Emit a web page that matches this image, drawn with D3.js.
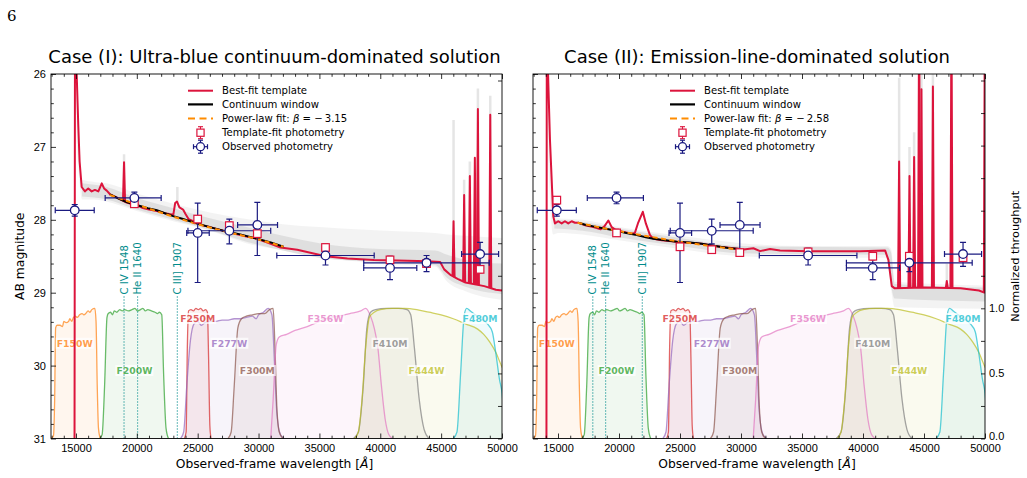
<!DOCTYPE html>
<html>
<head>
<meta charset="utf-8">
<script src="https://cdn.jsdelivr.net/npm/d3@7"></script>
<style>
  body { margin: 0; background: #fff; }
  svg { font-family: "DejaVu Sans", sans-serif; }
</style>
</head>
<body>
<div id="chart"></div>
<script>
// ---------- datos ----------
const filterNames = ["F150W", "F200W", "F250M", "F277W", "F300M", "F356W", "F410M", "F444W", "F480M"];
const filterColors = ["#ff7f0e", "#2ca02c", "#d62728", "#9467bd", "#8c564b", "#e377c2", "#7f7f7f", "#bcbd22", "#17becf"];

// curvas de transmisión normalizada [lambda, T]
const f150w = [[12950,0],[13150,0.02],[13250,0.3],[13330,0.85],[13450,0.87],[13700,0.87],[13900,0.86],[14000,0.9],[14200,0.89],[14400,0.9],[14500,0.92],[14650,0.9],[14800,0.93],[14950,0.94],[15100,0.93],[15300,0.95],[15500,0.96],[15650,0.95],[15800,0.96],[16000,0.98],[16150,0.97],[16300,0.99],[16550,1.0],[16650,0.9],[16750,0.4],[16850,0.08],[17000,0]];
const f200w = [[16950,0],[17150,0.03],[17350,0.4],[17550,0.93],[17650,0.96],[17850,0.97],[18000,0.95],[18150,0.98],[18350,0.97],[18600,0.99],[18800,0.98],[19000,0.99],[19300,0.98],[19600,0.99],[19850,1.0],[20050,0.98],[20300,0.99],[20500,1.0],[20700,0.98],[20900,0.99],[21200,0.98],[21500,0.97],[21700,0.96],[21850,0.97],[22050,0.95],[22200,0.5],[22400,0.08],[22600,0]];
const f250m = [[23900,0],[24050,0.05],[24150,0.7],[24250,0.98],[24450,0.99],[24650,0.98],[24850,1.0],[25050,0.99],[25250,1.0],[25450,0.98],[25650,0.99],[25800,0.97],[25900,0.6],[26000,0.1],[26100,0]];
const f277w = [[23600,0],[23850,0.05],[24100,0.4],[24400,0.75],[24700,0.88],[25000,0.9],[25300,0.87],[25600,0.89],[26000,0.9],[26500,0.9],[27000,0.91],[27500,0.91],[28000,0.92],[28500,0.92],[29000,0.93],[29500,0.94],[29800,0.92],[30000,0.95],[30400,0.97],[30800,1.0],[31100,0.95],[31300,0.6],[31500,0.2],[31800,0.03],[32100,0]];
const f300m = [[27500,0],[27750,0.05],[28000,0.4],[28300,0.85],[28600,0.92],[29000,0.94],[29500,0.95],[30000,0.96],[30500,0.96],[30900,0.99],[31200,1.0],[31350,0.7],[31500,0.25],[31700,0.05],[32000,0]];
const f356w = [[31000,0],[31200,0.3],[31450,0.72],[31700,0.78],[32300,0.8],[33000,0.83],[34000,0.86],[35000,0.9],[35500,0.92],[36500,0.94],[37500,0.96],[38400,0.98],[38800,1.0],[39200,0.94],[39500,0.85],[39800,0.7],[40100,0.4],[40400,0.15],[40700,0.03],[41000,0]];
const f410m = [[37800,0],[38200,0.05],[38600,0.4],[38900,0.85],[39200,0.97],[39600,0.99],[40500,1.0],[41500,1.0],[42200,0.99],[42500,0.95],[42800,0.7],[43200,0.3],[43600,0.07],[44000,0]];
const f444w = [[37900,0],[38200,0.05],[38500,0.3],[38800,0.7],[39100,0.93],[39500,0.97],[40000,0.99],[41000,1.0],[42000,1.0],[43000,0.99],[44000,0.97],[45000,0.95],[46000,0.92],[47000,0.88],[48000,0.84],[48500,0.8],[49000,0.74],[49500,0.66],[50000,0.55],[50300,0.5]];
const f480m = [[46000,0],[46300,0.05],[46600,0.5],[46900,0.95],[47100,1.0],[47400,0.98],[47800,0.95],[48300,0.92],[48800,0.88],[49200,0.82],[49500,0.65],[49800,0.45],[50000,0.35],[50200,0.1]];
const filterCurves = [f150w, f200w, f250m, f277w, f300m, f356w, f410m, f444w, f480m];

// fotometría observada (común a los dos casos)
const obsWave   = [14900, 19800, 25000, 27600, 29900, 35500, 40800, 43800, 48200];
const obsWaveLo = [13300, 17400, 24100, 24200, 28280, 31500, 38640, 38640, 46680];
const obsWaveHi = [16500, 22000, 25950, 31000, 31560, 39500, 43000, 48950, 49720];
const obsMag    = [27.87, 27.70, 28.18, 28.15, 28.07, 28.49, 28.66, 28.59, 28.47];
const obsErrLo  = [0.08, 0.08, 0.41, 0.16, 0.31, 0.10, 0.16, 0.10, 0.16];
const obsErrHi  = [0.08, 0.08, 0.68, 0.18, 0.42, 0.13, 0.16, 0.12, 0.17];

// Caso I
const tmpl1 = [[12950,31.5],[14880,31.5],[14920,25.5],[15000,25.5],[15060,26.0],[15190,26.7],[15300,27.2],[15470,27.55],[15740,27.61],[16010,27.57],[16290,27.61],[16560,27.59],[16840,27.61],[17120,27.5],[17310,27.57],[17530,27.6],[17800,27.65],[18300,27.69],[18760,27.73],[19120,27.76],[19500,27.78],[20000,27.8],[20500,27.84],[21000,27.86],[21650,27.88],[22300,27.91],[23000,27.93],[23150,27.77],[23300,27.75],[23500,27.83],[23800,27.86],[24000,27.92],[24250,27.99],[24940,28.04],[25500,28.08],[26000,28.1],[27100,28.15],[28000,28.19],[29000,28.23],[29880,28.26],[31000,28.33],[31800,28.38],[33180,28.41],[35500,28.5],[37300,28.53],[39480,28.55],[41400,28.56],[43880,28.57],[44920,28.58],[45250,28.68],[45800,28.76],[46350,28.81],[47000,28.86],[48540,28.91],[49500,28.96],[50000,28.97]];
const spikes1 = [[18950,27.21],[46020,28.02],[46890,27.66],[47360,27.40],[47770,27.15],[48020,26.48],[49035,26.56]];
const graySpikes1 = [[18950,27.1],[23330,27.55],[46020,26.63],[46890,27.45],[47360,27.2],[48020,26.2],[49035,26.3]];
const grayOuter1 = [[15050,26.2,26.9],[15300,27.0,27.5],[15500,27.45,27.72],[16500,27.48,27.72],[17500,27.5,27.75],[20000,27.64,27.88],[23000,27.78,28.02],[26000,27.9,28.15],[29000,27.99,28.32],[32000,28.06,28.42],[35000,28.1,28.52],[38000,28.13,28.57],[42000,28.16,28.62],[44500,28.18,28.64],[45500,28.2,28.85],[47000,28.22,28.98],[50000,28.25,29.1]];
const grayInner1 = [[15500,27.5,27.68],[17500,27.55,27.72],[20000,27.7,27.86],[23000,27.84,28.0],[26000,27.98,28.14],[29000,28.1,28.3],[32000,28.22,28.42],[35000,28.32,28.52],[40000,28.4,28.58],[44500,28.42,28.62],[45500,28.48,28.8],[47000,28.55,28.92],[50000,28.6,29.02]];
const cont1 = [[17800,27.65],[18500,27.71],[19200,27.76],[20270,27.81],[20900,27.84],[21650,27.87],[22300,27.91],[22990,27.95],[23800,27.99],[24940,28.05],[26000,28.1],[27100,28.15],[28500,28.2],[29880,28.26],[31000,28.31],[32050,28.37]];
const pl1 = [[17800,27.66],[20000,27.79],[22500,27.93],[25000,28.06],[27500,28.17],[30000,28.27],[32050,28.37]];
const tfMag1 = [null, 27.78, 27.99, 28.08, 28.19, 28.38, 28.55, 28.60, 28.68];
const lines1 = [18950, 20060, 23330];

// Caso II
const tmpl2 = [[12950,31.5],[14050,31.5],[14080,25.5],[14150,25.8],[14340,26.9],[14610,27.95],[14750,28.05],[15020,28.02],[15300,28.05],[15570,28.02],[15840,28.05],[16120,28.02],[16390,28.04],[16665,28.04],[17300,28.08],[17900,28.1],[18500,28.13],[18800,28.09],[19125,28.01],[19400,28.1],[19813,28.15],[20500,28.17],[21000,28.19],[21300,28.18],[21550,28.05],[21950,27.89],[22200,28.05],[22540,28.21],[22815,28.26],[23500,28.28],[24733,28.3],[25500,28.31],[26783,28.33],[27500,28.35],[28284,28.37],[29924,28.40],[30060,28.41],[31015,28.39],[31560,28.43],[32380,28.4],[33200,28.42],[35520,28.43],[39760,28.43],[41810,28.42],[42080,28.55],[42360,28.91],[42600,28.94],[45000,28.93],[48000,28.94],[49500,28.97],[50000,29.0]];
const spikes2 = [[42960,27.2],[43810,27.4],[44190,27.14],[44600,25],[44790,26.21],[45730,26.17],[46870,28.84],[47250,25],[49990,25]];
const graySpikes2 = [[42960,26.05],[43810,27.0],[44190,26.8],[44790,26.0],[45730,26.0],[46870,28.6]];
const grayOuter2 = [[14200,26.0,27.2],[14600,27.8,28.2],[15000,27.98,28.18],[17000,28.0,28.2],[20000,28.1,28.28],[25000,28.22,28.4],[30000,28.32,28.5],[35000,28.36,28.52],[42000,28.36,28.52],[42300,28.4,28.95],[42600,28.85,29.2],[50000,28.9,29.22]];
const grayInner2 = [[14700,28.0,28.12],[17000,28.03,28.15],[20000,28.12,28.24],[25000,28.25,28.36],[30000,28.36,28.46],[42000,28.38,28.48],[42300,28.45,28.9],[42600,28.88,29.08],[50000,28.93,29.12]];
const cont2 = [[16665,28.04],[17300,28.07],[17895,28.09],[18800,28.12],[19813,28.15],[20600,28.18],[21453,28.21],[22200,28.24],[22815,28.26],[23800,28.28],[24733,28.30],[25800,28.31],[26783,28.33],[27500,28.35],[28284,28.37],[29100,28.39],[29924,28.40]];
const pl2 = [[16600,28.04],[18000,28.09],[20000,28.155],[22500,28.23],[25000,28.3],[27500,28.36],[29924,28.41]];
const tfMag2 = [27.73, 28.18, 28.37, 28.41, 28.45, 28.44, 28.50, 28.50, 28.52];
const lines2 = [17850, 18900, 21910];

const lineNames = ["C IV 1548", "He II 1640", "C III] 1907"];
const tfErr = 0.05;

const waveDomain = [12950, 50000];
const magDomain = [26, 31];
const thruDomain = [0, 2.8];
const xMajor = d3.range(15000, 50001, 5000);
const xMinor = d3.range(13000, 50001, 1000).filter(v => v % 5000 !== 0);
const magMajor = [26, 27, 28, 29, 30, 31];
const magMinor = d3.range(26, 31.001, 0.2).filter(v => Math.abs(v - Math.round(v)) > 0.01);
const thruTicks = d3.range(0, 2.76, 0.25);
const thruLabels = [0, 0.5, 1.0];

// ---------- figura ----------
const W = 1027, H = 478;
const yTop = 74, yBot = 438.5;

const svg = d3.select("#chart").append("svg")
  .attr("width", W).attr("height", H)
  .attr("viewBox", [0, 0, W, H]);

svg.append("text").attr("x", 7).attr("y", 21)
  .attr("font-family", "DejaVu Serif, serif").attr("font-size", 15)
  .text("6");

function interp(pts, w) {
  const i = d3.bisector(d => d[0]).left(pts, w);
  if (i <= 0) return pts[0][1];
  if (i >= pts.length) return pts[pts.length - 1][1];
  const a = pts[i - 1], b = pts[i];
  return a[1] + (b[1] - a[1]) * (w - a[0]) / (b[0] - a[0]);
}

function panel(cfg) {
  const x = d3.scaleLinear().domain(waveDomain).range([cfg.x0, cfg.x1]);
  const y = d3.scaleLinear().domain(magDomain).range([yTop, yBot]);
  const yT = d3.scaleLinear().domain(thruDomain).range([yBot, yTop]);

  const clipId = "clip" + cfg.id;
  svg.append("clipPath").attr("id", clipId).append("rect")
    .attr("x", cfg.x0).attr("y", yTop).attr("width", cfg.x1 - cfg.x0).attr("height", yBot - yTop);
  const g = svg.append("g").attr("clip-path", `url(#${clipId})`);

  // filtros
  const area = d3.area().x(d => x(d[0])).y0(yT(0)).y1(d => yT(d[1])).curve(d3.curveMonotoneX);
  const tline = d3.line().x(d => x(d[0])).y(d => yT(d[1])).curve(d3.curveMonotoneX);
  filterCurves.forEach((c, i) => {
    g.append("path").attr("d", area(c)).attr("fill", filterColors[i]).attr("fill-opacity", 0.07);
  });
  filterCurves.forEach((c, i) => {
    g.append("path").attr("d", tline(c)).attr("fill", "none")
      .attr("stroke", filterColors[i]).attr("stroke-opacity", 0.7).attr("stroke-width", 1.3);
  });
  const labelLevels = [0.73, 0.52, 0.92];
  filterNames.forEach((n, i) => {
    const t = g.append("text")
      .attr("x", x(obsWave[i])).attr("y", yT(labelLevels[i % 3]))
      .attr("dy", "0.35em").attr("text-anchor", "middle")
      .attr("font-size", 9.3).attr("font-weight", "bold")
      .attr("fill", filterColors[i]).attr("fill-opacity", 0.75)
      .text(n);
    const bb = t.node().getBBox();
    g.insert("rect", () => t.node())
      .attr("x", bb.x - 1).attr("y", bb.y).attr("width", bb.width + 2).attr("height", bb.height)
      .attr("fill", "#fff").attr("fill-opacity", 0.7);
  });

  // banda gris de plantillas
  const band = d3.area().x(d => x(d[0])).y0(d => y(d[1])).y1(d => y(d[2])).curve(d3.curveMonotoneX);
  g.append("path").attr("d", band(cfg.grayOuter)).attr("fill", "#aaa").attr("fill-opacity", 0.14);
  g.append("path").attr("d", band(cfg.grayInner)).attr("fill", "#999").attr("fill-opacity", 0.22);
  cfg.graySpikes.forEach(s => {
    const base = interp(cfg.tmpl, s[0]);
    g.append("line").attr("x1", x(s[0])).attr("x2", x(s[0]))
      .attr("y1", y(base)).attr("y2", y(s[1]))
      .attr("stroke", "#aaa").attr("stroke-opacity", 0.3).attr("stroke-width", 2.5);
  });

  // plantilla
  const mline = d3.line().x(d => x(d[0])).y(d => y(d[1]));
  g.append("path").attr("d", mline(cfg.tmpl)).attr("fill", "none")
    .attr("stroke", "crimson").attr("stroke-width", 2).attr("stroke-linejoin", "round");
  const hw = 85;
  cfg.spikes.forEach(s => {
    const pts = [[s[0] - hw, interp(cfg.tmpl, s[0] - hw)], [s[0], s[1]], [s[0] + hw, interp(cfg.tmpl, s[0] + hw)]];
    g.append("path").attr("d", mline(pts)).attr("fill", "crimson")
      .attr("stroke", "crimson").attr("stroke-width", 2).attr("stroke-linejoin", "round");
  });

  // continuo y ley de potencias
  g.append("path").attr("d", mline(cfg.cont)).attr("fill", "none")
    .attr("stroke", "#000").attr("stroke-width", 2);
  const smooth = d3.line().x(d => x(d[0])).y(d => y(d[1])).curve(d3.curveMonotoneX);
  g.append("path").attr("d", smooth(cfg.pl)).attr("fill", "none")
    .attr("stroke", "darkorange").attr("stroke-width", 2).attr("stroke-dasharray", "5,3.5");

  // líneas de emisión UV
  cfg.lines.forEach((w, i) => {
    g.append("line").attr("x1", x(w)).attr("x2", x(w))
      .attr("y1", y(31)).attr("y2", y(29.04))
      .attr("stroke", "#008b8b").attr("stroke-width", 1.2).attr("stroke-dasharray", "1,2");
    g.append("text")
      .attr("transform", `translate(${x(w) + 3.6},${y(29.04) - 1}) rotate(-90)`)
      .attr("font-size", 10.2).attr("fill", "#008b8b")
      .text(lineNames[i]);
  });

  // fotometría
  const navy = "#1a1a80";
  obsWave.forEach((w, i) => {
    const cx = x(w), cy = y(obsMag[i]);
    const y1 = y(obsMag[i] - obsErrLo[i]), y2 = y(obsMag[i] + obsErrHi[i]);
    const xa = x(obsWaveLo[i]), xb = x(obsWaveHi[i]);
    const eb = g.append("g").attr("stroke", navy).attr("stroke-width", 1.2);
    eb.append("line").attr("x1", xa).attr("x2", xb).attr("y1", cy).attr("y2", cy);
    eb.append("line").attr("x1", cx).attr("x2", cx).attr("y1", y1).attr("y2", y2);
    [xa, xb].forEach(v => eb.append("line").attr("x1", v).attr("x2", v).attr("y1", cy - 3).attr("y2", cy + 3));
    [y1, y2].forEach(v => eb.append("line").attr("x1", cx - 3).attr("x2", cx + 3).attr("y1", v).attr("y2", v));
  });
  cfg.tfMag.forEach((m, i) => {
    if (m == null) return;
    const cx = x(obsWave[i]), cy = y(m);
    const e = g.append("g").attr("stroke", "crimson").attr("stroke-width", 1.1);
    e.append("line").attr("x1", cx).attr("x2", cx).attr("y1", y(m - tfErr)).attr("y2", y(m + tfErr));
    [y(m - tfErr), y(m + tfErr)].forEach(v => e.append("line").attr("x1", cx - 2.5).attr("x2", cx + 2.5).attr("y1", v).attr("y2", v));
    g.append("rect").attr("x", cx - 3.8).attr("y", cy - 3.8).attr("width", 7.6).attr("height", 7.6)
      .attr("fill", "#fff").attr("stroke", "crimson").attr("stroke-width", 1.2);
  });
  obsWave.forEach((w, i) => {
    g.append("circle").attr("cx", x(w)).attr("cy", y(obsMag[i])).attr("r", 4.3)
      .attr("fill", "#fff").attr("stroke", navy).attr("stroke-width", 1.3);
  });

  // ejes
  const ax = svg.append("g").attr("font-size", 11);
  const styleAxis = sel => { sel.select(".domain").remove(); sel.selectAll("text").attr("fill", "#000").attr("font-size", 11); sel.selectAll("line").attr("stroke", "#000").attr("stroke-width", 0.8); };
  ax.append("g").attr("transform", `translate(0,${yBot})`)
    .call(d3.axisBottom(x).tickValues(xMajor).tickSize(-5).tickPadding(5.5).tickFormat(d3.format("d"))).call(styleAxis);
  ax.append("g").attr("transform", `translate(0,${yBot})`)
    .call(d3.axisBottom(x).tickValues(xMinor).tickSize(-2.8).tickFormat("")).call(styleAxis);
  ax.append("g").attr("transform", `translate(0,${yTop})`)
    .call(d3.axisTop(x).tickValues(xMajor).tickSize(-5).tickFormat("")).call(styleAxis);
  ax.append("g").attr("transform", `translate(0,${yTop})`)
    .call(d3.axisTop(x).tickValues(xMinor).tickSize(-2.8).tickFormat("")).call(styleAxis);
  ax.append("g").attr("transform", `translate(${cfg.x0},0)`)
    .call(d3.axisLeft(y).tickValues(magMajor).tickSize(-5).tickPadding(5)
      .tickFormat(cfg.leftLabels ? d3.format("d") : "")).call(styleAxis);
  ax.append("g").attr("transform", `translate(${cfg.x0},0)`)
    .call(d3.axisLeft(y).tickValues(magMinor).tickSize(-2.8).tickFormat("")).call(styleAxis);
  const rAx = ax.append("g").attr("transform", `translate(${cfg.x1},0)`)
    .call(d3.axisRight(yT).tickValues(thruTicks).tickSize(-4).tickPadding(4)
      .tickFormat(d => cfg.rightLabels && thruLabels.includes(d) ? d3.format(".1f")(d) : "")).call(styleAxis);
  rAx.selectAll("text").filter(d => d === 0).attr("dy", "0.1em");
  svg.append("rect").attr("x", cfg.x0).attr("y", yTop).attr("width", cfg.x1 - cfg.x0).attr("height", yBot - yTop)
    .attr("fill", "none").attr("stroke", "#000").attr("stroke-width", 0.9);

  svg.append("text").attr("x", (cfg.x0 + cfg.x1) / 2 - 2).attr("y", 468)
    .attr("text-anchor", "middle").attr("font-size", 12.3)
    .call(t => { t.append("tspan").text("Observed-frame wavelength ["); t.append("tspan").attr("font-style", "italic").text("Å"); t.append("tspan").text("]"); });
  svg.append("text").attr("x", (cfg.x0 + cfg.x1) / 2 - 2).attr("y", 63)
    .attr("text-anchor", "middle").attr("font-size", 18).text(cfg.title);

  // leyenda
  const lx = cfg.x0 + 137, lt = lx + 34;
  const rows = [90.7, 104.4, 118.4, 132.7, 146.7];
  const leg = svg.append("g").attr("font-size", 10.1);
  leg.append("line").attr("x1", lx).attr("x2", lx + 25).attr("y1", rows[0]).attr("y2", rows[0]).attr("stroke", "crimson").attr("stroke-width", 2);
  leg.append("line").attr("x1", lx).attr("x2", lx + 25).attr("y1", rows[1]).attr("y2", rows[1]).attr("stroke", "#000").attr("stroke-width", 2.2);
  leg.append("line").attr("x1", lx).attr("x2", lx + 25).attr("y1", rows[2]).attr("y2", rows[2]).attr("stroke", "darkorange").attr("stroke-width", 2).attr("stroke-dasharray", "7,4.5");
  const mx = lx + 12.5;
  const sq = leg.append("g").attr("stroke", "crimson").attr("stroke-width", 1.1);
  sq.append("line").attr("x1", mx).attr("x2", mx).attr("y1", rows[3] - 6).attr("y2", rows[3] + 6);
  [rows[3] - 6, rows[3] + 6].forEach(v => sq.append("line").attr("x1", mx - 2.5).attr("x2", mx + 2.5).attr("y1", v).attr("y2", v));
  sq.append("rect").attr("x", mx - 3.6).attr("y", rows[3] - 3.6).attr("width", 7.2).attr("height", 7.2).attr("fill", "#fff").attr("stroke-width", 1.2);
  const ci = leg.append("g").attr("stroke", "#1a1a80").attr("stroke-width", 1.2);
  ci.append("line").attr("x1", mx - 7).attr("x2", mx + 7).attr("y1", rows[4]).attr("y2", rows[4]);
  ci.append("line").attr("x1", mx).attr("x2", mx).attr("y1", rows[4] - 6.5).attr("y2", rows[4] + 6.5);
  [mx - 7, mx + 7].forEach(v => ci.append("line").attr("x1", v).attr("x2", v).attr("y1", rows[4] - 2.5).attr("y2", rows[4] + 2.5));
  [rows[4] - 6.5, rows[4] + 6.5].forEach(v => ci.append("line").attr("x1", mx - 2.5).attr("x2", mx + 2.5).attr("y1", v).attr("y2", v));
  ci.append("circle").attr("cx", mx).attr("cy", rows[4]).attr("r", 4).attr("fill", "#fff").attr("stroke-width", 1.3);

  const texts = ["Best-fit template", "Continuum window", null, "Template-fit photometry", "Observed photometry"];
  texts.forEach((s, i) => {
    if (!s) return;
    leg.append("text").attr("x", lt).attr("y", rows[i]).attr("dy", "0.35em").text(s);
  });
  leg.append("text").attr("x", lt).attr("y", rows[2]).attr("dy", "0.35em")
    .call(t => {
      t.append("tspan").text("Power-law fit: ");
      t.append("tspan").attr("font-style", "italic").text("β");
      t.append("tspan").text(" = \u2212\u2009" + cfg.beta);
    });
}

panel({ id: 1, x0: 51, x1: 502, title: "Case (I): Ultra-blue continuum-dominated solution",
  tmpl: tmpl1, spikes: spikes1, graySpikes: graySpikes1, grayOuter: grayOuter1, grayInner: grayInner1,
  cont: cont1, pl: pl1, tfMag: tfMag1, lines: lines1, beta: "3.15", leftLabels: true, rightLabels: false });
panel({ id: 2, x0: 533, x1: 985, title: "Case (II): Emission-line-dominated solution",
  tmpl: tmpl2, spikes: spikes2, graySpikes: graySpikes2, grayOuter: grayOuter2, grayInner: grayInner2,
  cont: cont2, pl: pl2, tfMag: tfMag2, lines: lines2, beta: "2.58", leftLabels: false, rightLabels: true });

svg.append("text").attr("transform", `translate(24,${(yTop + yBot) / 2}) rotate(-90)`)
  .attr("text-anchor", "middle").attr("font-size", 12.3).text("AB magnitude");
svg.append("text").attr("transform", `translate(1019,${(yTop + yBot) / 2}) rotate(-90)`)
  .attr("text-anchor", "middle").attr("font-size", 11.3).text("Normalized throughput");
</script>
</body>
</html>
